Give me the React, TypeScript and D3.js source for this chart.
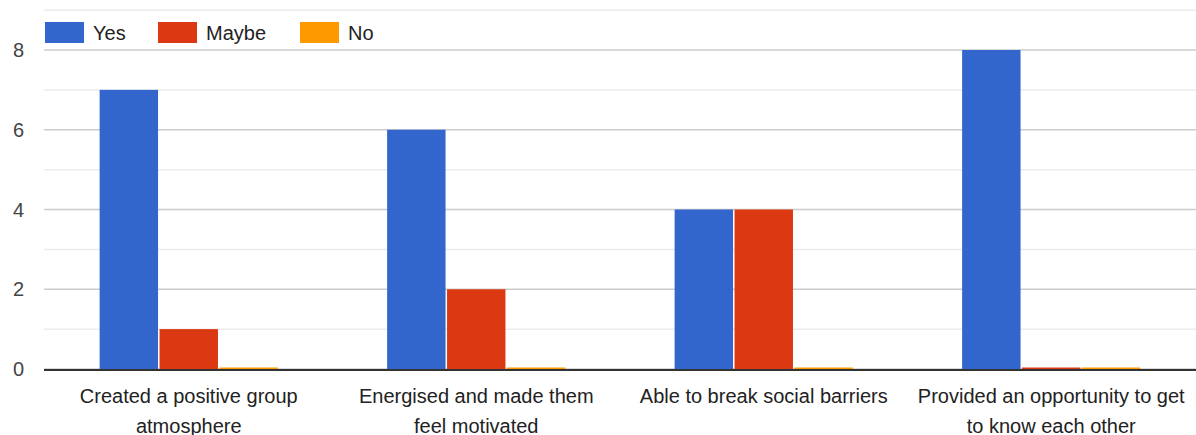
import React from "react";
import * as d3 from "d3";

const categories = [
  ["Created a positive group", "atmosphere"],
  ["Energised and made them", "feel motivated"],
  ["Able to break social barriers"],
  ["Provided an opportunity to get", "to know each other"],
];
const seriesNames = ["Yes", "Maybe", "No"];
const yesValues = [7, 6, 4, 8];
const maybeValues = [1, 2, 4, 0];
const noValues = [0, 0, 0, 0];
const colors = ["#3366cc", "#dc3912", "#ff9900"];
const majorTicks = [0, 2, 4, 6, 8];
const minorTicks = [1, 3, 5, 7, 9];

const W = 1196;
const H = 435;

export default function App() {
  const series = [yesValues, maybeValues, noValues];
  const left = 45;
  const right = 1195;
  const y = d3.scaleLinear().domain([0, 8]).range([369, 50]);
  const x0 = d3
    .scaleBand<number>()
    .domain(d3.range(categories.length))
    .range([left, right])
    .paddingInner(0)
    .paddingOuter(0);
  const bw = x0.bandwidth();
  const groupW = bw * 0.62;
  const x1 = d3
    .scaleBand<number>()
    .domain(d3.range(seriesNames.length))
    .range([(bw - groupW) / 2, (bw + groupW) / 2])
    .paddingInner(0.025);
  const font = "Arial, 'Liberation Sans', sans-serif";
  const legendX = [45, 158, 300];

  return (
    <svg
      width={W}
      height={H}
      style={{ position: "absolute", left: 0, top: 0, background: "#fff" }}
      fontFamily={font}
    >
      <rect x={0} y={0} width={W} height={H} fill="#fff" />
      {minorTicks.map((t) => (
        <line key={"mi" + t} x1={left - 1} x2={W} y1={y(t)} y2={y(t)} stroke="#ebebeb" strokeWidth={1.5} />
      ))}
      {majorTicks.map((t) => (
        <line key={"ma" + t} x1={left - 1} x2={W} y1={y(t)} y2={y(t)} stroke="#cccccc" strokeWidth={1.5} />
      ))}
      {majorTicks.map((t) => (
        <text key={"yl" + t} x={24} y={y(t)} dy="0.36em" textAnchor="end" fontSize={20} fill="#444">
          {t}
        </text>
      ))}
      {categories.map((c, i) =>
        series.map((vals, s) => {
          const v = vals[i];
          const top = y(v);
          const h = Math.max(1.5, y(0) - top);
          return (
            <rect
              key={"b" + i + "-" + s}
              x={(x0(i) as number) + (x1(s) as number)}
              y={y(0) - h}
              width={x1.bandwidth()}
              height={h}
              fill={colors[s]}
            />
          );
        })
      )}
      <line x1={left - 1} x2={W} y1={y(0) + 1} y2={y(0) + 1} stroke="#333" strokeWidth={2} />
      {categories.map((c, i) => (
        <text key={"xl" + i} x={(x0(i) as number) + bw / 2} y={403} textAnchor="middle" fontSize={20} fill="#222">
          {c.map((line, j) => (
            <tspan key={j} x={(x0(i) as number) + bw / 2} dy={j === 0 ? 0 : 30}>
              {line}
            </tspan>
          ))}
        </text>
      ))}
      {seriesNames.map((n, s) => (
        <g key={"lg" + n}>
          <rect x={legendX[s]} y={22} width={39} height={21} fill={colors[s]} />
          <text x={legendX[s] + 48} y={40} fontSize={20} fill="#222">
            {n}
          </text>
        </g>
      ))}
    </svg>
  );
}
